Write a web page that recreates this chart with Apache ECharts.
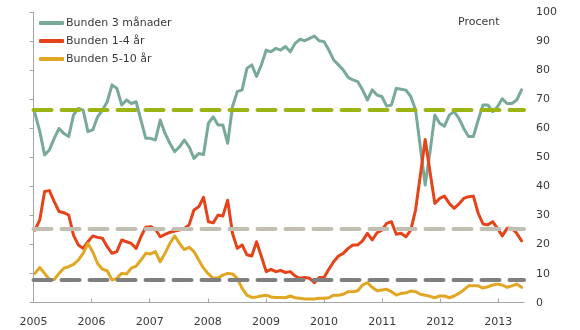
<!DOCTYPE html>
<html>
<head>
<meta charset="utf-8">
<script src="https://cdn.jsdelivr.net/npm/echarts@6/dist/echarts.min.js"></script>
<style>html,body{margin:0;padding:0;background:#fff}#c{width:580px;height:330px}</style>
</head>
<body>
<div id="c"></div>
<script>
// Monthly observations, Jan 2005 - Jun 2013
const startYear = 2005;
const yearTicks = ['2005','2006','2007','2008','2009','2010','2011','2012','2013'];
const seriesNames = ['Bunden 3 månader', 'Bunden 1-4 år', 'Bunden 5-10 år'];
const bunden3m = [65.2,59,50.9,52.6,56.6,60.0,58.3,57.2,64.6,66.9,66.3,58.9,59.5,64,66.3,69.2,75,73.8,68.1,69.8,68.6,69.2,62.9,56.6,56.6,56,62.9,58.3,54.9,52,53.7,56,53.7,49.7,51.4,51,61.8,64,61.2,61.2,54.9,67.5,72.7,73.3,80.7,81.9,77.9,81.9,87,86.4,87.6,87,88.2,86.4,89.3,90.7,90.2,91,91.8,90.2,89.9,87,83.6,81.9,80.1,77.6,76.7,76.1,73.3,69.8,73.3,71.5,71,67.7,68.1,73.8,73.5,73.2,71,66.4,53.5,40.5,52,64.6,61.8,60.8,64.6,65.8,63.5,60,57.2,57.2,62.9,68.1,68.1,65.8,67.5,70.2,68.6,68.6,69.8,73.3];
const bunden1_4 = [25,28.5,38.3,38.6,34.8,31.4,31,30.2,23.3,19.9,18.7,21,23,22.5,22.2,19.3,17,17.6,21.6,21,20.4,18.7,22.7,26,26.2,25.3,22.7,23.5,24.2,24.7,25,25.6,26.8,31.9,33,36.3,27.9,27.5,30.2,29.8,35.3,23.9,18.7,19.9,16.5,16.1,21,15.9,10.7,11.5,10.7,11.1,10.4,10.7,9.2,8.4,8.7,8.4,6.9,8.7,8.7,11.5,14.1,16.1,17,18.7,19.9,19.9,21.3,23.9,21.6,24.1,25,27.3,27.9,23.6,23.9,22.7,25,31.9,44,56.2,45,34.2,35.9,36.7,34.2,32.5,34,35.9,36.5,36.7,30.8,27.1,26.8,27.9,25.6,23,25.6,25.6,23.9,21.3];
const bunden5_10 = [10.1,12.1,10.1,8,8,10.1,11.9,12.4,13.2,14.7,17,20.4,17.5,13.5,11.5,11,7.8,8.4,10.1,9.9,11.9,12.6,14.7,17,16.8,17.6,14.1,17,20.4,23,20.4,18.3,19.1,17.6,14.7,11.9,9.9,8.4,8.6,9.5,10.1,9.9,8.4,4.9,2.6,1.8,2,2.3,2.6,2,1.8,1.8,1.7,2.3,1.7,1.5,1.3,1.3,1.3,1.5,1.5,1.7,2.6,2.6,2.9,3.8,3.8,4.1,6.1,6.9,5.3,4.1,4.4,4.6,3.8,2.6,3.2,3.4,4,3.8,2.9,2.6,2.2,1.7,2.3,2.3,1.7,2.3,3.2,4.4,5.8,5.8,5.8,5,5.5,6.1,6.4,6.1,5.3,5.8,6.4,5.3];
const referenceLevels = [66.4, 25.6, 7.8];
const unitLabel = 'Procent';

const colors = ['#78a999', '#e5431a', '#e1a623'];
const refColors = ['#9cb414', '#c2beb2', '#7f7f7f'];

// month index -> position along the month axis (observation dated within month)
const toPoints = arr => arr.map((v, i) => [0.3 + i * 0.995, v]);

const chart = echarts.init(document.getElementById('c'), null, {renderer: 'canvas'});
const font = 'DejaVu Sans';
const lineSeries = [bunden3m, bunden1_4, bunden5_10].map((d, k) => ({
  name: seriesNames[k], type: 'line', data: toPoints(d), symbol: 'none', z: 3,
  lineStyle: {color: colors[k], width: 3, join: 'round', cap: 'round'},
  itemStyle: {color: colors[k]}
}));
const refSeries = {
  name: 'ref', type: 'line', data: [], z: 2, silent: true,
  markLine: {
    silent: true, symbol: ['none', 'none'], animation: false,
    label: {show: false},
    data: referenceLevels.map((v, k) => ({yAxis: v, lineStyle: {color: refColors[k], width: 4, type: [18, 10], cap: 'round'}}))
  }
};
chart.setOption({
  animation: false,
  grid: {left: 33.5, right: 56, top: 12.3, bottom: 27.3},
  legend: {
    data: seriesNames.map(n => ({name: n, icon: 'roundRect'})), orient: 'vertical', left: 34, top: 11,
    itemWidth: 25, itemHeight: 4, itemGap: 4,
    textStyle: {fontFamily: font, fontSize: 11, color: '#3a3a3a', lineHeight: 14, padding: [0, 0, 0, -3]}
  },
  graphic: [{type: 'text', left: 458, top: 17, style: {text: unitLabel, font: '11px "DejaVu Sans"', fill: '#3a3a3a'}}],
  xAxis: {
    type: 'value', min: 0, max: 101.3, interval: 12,
    axisLine: {lineStyle: {color: '#a6a6a6'}},
    axisTick: {inside: true, length: 4, lineStyle: {color: '#a6a6a6'}},
    splitLine: {show: false},
    axisLabel: {
      margin: 14, fontFamily: font, fontSize: 11, color: '#3a3a3a', showMaxLabel: false,
      formatter: v => (Math.abs(v % 12) < 1e-6 ? yearTicks[Math.round(v / 12)] || '' : '')
    }
  },
  yAxis: {
    type: 'value', position: 'right', min: 0, max: 100, interval: 10,
    axisLine: {show: true, lineStyle: {color: '#a6a6a6'}},
    axisTick: {show: true, inside: true, length: 4, lineStyle: {color: '#a6a6a6'}},
    splitLine: {show: false},
    axisLabel: {margin: 12, fontFamily: font, fontSize: 11, color: '#3a3a3a'}
  },
  series: [refSeries, ...lineSeries]
});
</script>
</body>
</html>
